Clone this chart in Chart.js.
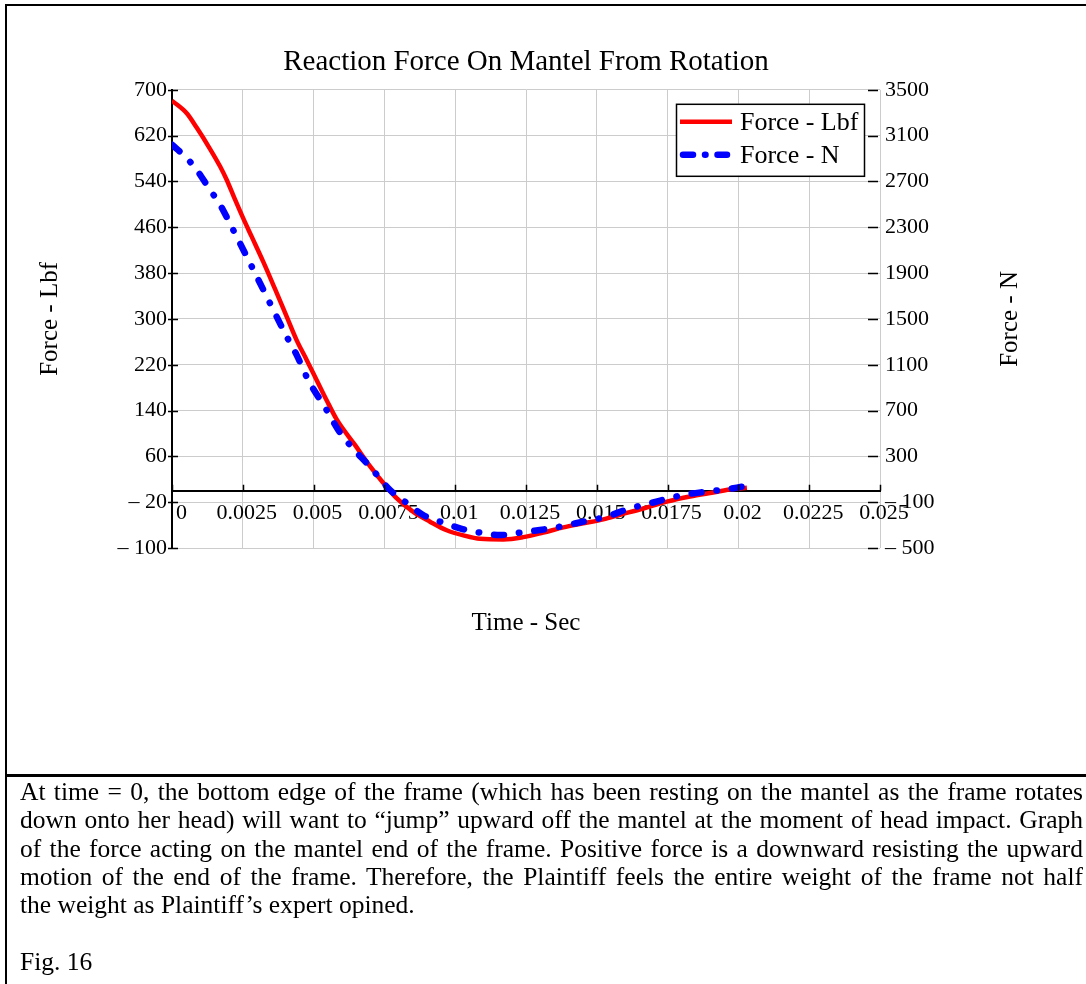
<!DOCTYPE html>
<html>
<head>
<meta charset="utf-8">
<title>Reaction Force On Mantel From Rotation</title>
<script src="https://cdn.jsdelivr.net/npm/chart.js@4.4.0/dist/chart.umd.min.js"></script>
<style>
  html, body { margin: 0; padding: 0; background: #fff; }
  #page { position: relative; width: 1086px; height: 984px; overflow: hidden;
          font-family: "Liberation Serif", "Times New Roman", serif; color: #000; }
  #chart { position: absolute; left: 0; top: 0; }
  .rule { position: absolute; background: #000; }
  #caption { position: absolute; left: 20px; top: 778px; width: 1063px;
             font-size: 25.5px; line-height: 28.3px; }
  #caption .j { text-align: justify; text-align-last: justify; }
</style>
</head>
<body>
<div id="page">
  <canvas id="chart" width="1086" height="776"></canvas>
  <div class="rule" style="left:5px;top:4px;width:1081px;height:2px;"></div>
  <div class="rule" style="left:5px;top:4px;width:2px;height:980px;"></div>
  <div class="rule" style="left:5px;top:774px;width:1081px;height:3px;"></div>
  <div id="caption">
    <div class="j">At time = 0, the bottom edge of the frame (which has been resting on the mantel as the frame rotates</div>
    <div class="j">down onto her head) will want to “jump” upward off the mantel at the moment of head impact. Graph</div>
    <div class="j">of the force acting on the mantel end of the frame. Positive force is a downward resisting the upward</div>
    <div class="j">motion of the end of the frame. Therefore, the Plaintiff feels the entire weight of the frame not half</div>
    <div>the weight as Plaintiff’s expert opined.</div>
    <div>&nbsp;</div>
    <div>Fig. 16</div>
  </div>
</div>
<script>
// Reaction force at the mantel end of the frame, in pounds-force (left axis)
const timeLbf  = [0, 0.00052, 0.00087, 0.00134, 0.0017, 0.00193, 0.00222, 0.00252, 0.00281, 0.00322,
                  0.00364, 0.00405, 0.0044, 0.00476, 0.00511, 0.00546, 0.00582, 0.00646, 0.00699,
                  0.00752, 0.00793, 0.00852, 0.00911, 0.0097, 0.01029, 0.01088, 0.0117, 0.0124,
                  0.01311, 0.01382, 0.01452, 0.01523, 0.01582, 0.01664, 0.01747, 0.01829, 0.01911,
                  0.01982, 0.0203];
const forceLbf = [681, 659, 634, 597, 566, 543, 509, 475, 444, 400,
                  352, 304, 263, 228, 193, 158, 124, 80, 43,
                  10, -13, -37, -54, -69, -78, -84, -85, -81,
                  -73, -64, -57, -50, -42, -31, -19, -10, -3,
                  3, 5];

// Same force in newtons (right axis)
const timeN  = [0, 0.0004, 0.00081, 0.00134, 0.0017, 0.0021, 0.00264, 0.00305, 0.00346, 0.00405,
                0.0044, 0.00481, 0.00546, 0.00587, 0.00628, 0.00699, 0.0077, 0.00823, 0.00887,
                0.00958, 0.01029, 0.01088, 0.01158, 0.01229, 0.01299, 0.01382, 0.01452, 0.01535,
                0.0161, 0.01688, 0.01805, 0.01888, 0.01959, 0.02012];
const forceN = [3020, 2932, 2822, 2627, 2496, 2306, 2044, 1841, 1637, 1346,
                1186, 967, 705, 531, 400, 210, 6, -96, -212,
                -279, -337, -366, -387, -366, -343, -308, -270, -226,
                -160, -110, -37, -8, 13, 35];

// Axis ticks and their printed labels
const xTickValues = [0, 0.0025, 0.005, 0.0075, 0.01, 0.0125, 0.015, 0.0175, 0.02, 0.0225, 0.025];
const xTickLabels = ['\u20070', '0.0025', '0.005', '0.0075', '0.01', '0.0125', '0.015', '0.0175', '0.02', '0.0225', '0.025'];
const lbfTickValues = [-100, -20, 60, 140, 220, 300, 380, 460, 540, 620, 700];
const lbfTickLabels = ['\u2013 100', '\u2013 20', '60', '140', '220', '300', '380', '460', '540', '620', '700'];
const nTickValues = [-500, -100, 300, 700, 1100, 1500, 1900, 2300, 2700, 3100, 3500];
const nTickLabels = ['\u2013 500', '\u2013 100', '300', '700', '1100', '1500', '1900', '2300', '2700', '3100', '3500'];

const chartTitle = 'Reaction Force On Mantel From Rotation';
const xTitle = 'Time - Sec';
const lbfTitle = 'Force - Lbf';
const nTitle = 'Force - N';

const serif = "'Liberation Serif', 'Times New Roman', serif";
const toPoints = (xs, ys) => xs.map((x, i) => ({ x: x, y: ys[i] }));

// Short tick marks on the three axis lines
const axisMarks = {
  id: 'axisMarks',
  afterDatasetsDraw(chart) {
    const { ctx, chartArea, scales } = chart;
    const y = scales.y, y2 = scales.y2, x = scales.x;
    const zero = y.getPixelForValue(0);
    ctx.save();
    ctx.strokeStyle = '#000';
    ctx.lineWidth = 1.5;
    ctx.beginPath();
    y.ticks.forEach(t => {
      const p = Math.round(y.getPixelForValue(t.value)) + 0.5;
      ctx.moveTo(chartArea.left - 4, p); ctx.lineTo(chartArea.left + 6, p);
    });
    y2.ticks.forEach(t => {
      const p = Math.round(y2.getPixelForValue(t.value)) + 0.5;
      ctx.moveTo(chartArea.right - 12, p); ctx.lineTo(chartArea.right - 2, p);
    });
    x.ticks.forEach(t => {
      const p = Math.round(x.getPixelForValue(t.value)) + 0.5;
      ctx.moveTo(p, zero - 6); ctx.lineTo(p, zero);
    });
    ctx.stroke();
    ctx.restore();
  }
};

// Boxed legend in the upper right corner of the plot
const legendBox = {
  id: 'legendBox',
  afterDraw(chart) {
    const { ctx, chartArea } = chart;
    const w = 188, h = 72;
    const x0 = chartArea.right - 16 - w, y0 = chartArea.top + 14;
    ctx.save();
    ctx.fillStyle = '#fff';
    ctx.fillRect(x0, y0, w, h);
    ctx.strokeStyle = '#000';
    ctx.lineWidth = 1.5;
    ctx.strokeRect(x0 + 0.5, y0 + 0.5, w, h);
    chart.data.datasets.forEach((ds, i) => {
      const cy = y0 + 18 + i * 33;
      ctx.strokeStyle = ds.borderColor;
      ctx.lineWidth = ds.borderWidth;
      ctx.lineCap = ds.borderDash ? 'round' : 'butt';
      ctx.setLineDash(ds.borderDash ? [10, 12, 0.5, 12] : []);
      ctx.beginPath();
      ctx.moveTo(x0 + (ds.borderDash ? 7 : 4), cy);
      ctx.lineTo(x0 + (ds.borderDash ? 51 : 56), cy);
      ctx.stroke();
      ctx.setLineDash([]);
      ctx.fillStyle = '#000';
      ctx.font = '26px ' + serif;
      ctx.textBaseline = 'middle';
      ctx.textAlign = 'left';
      ctx.fillText(ds.label, x0 + 64, cy + 1);
    });
    ctx.restore();
  }
};

// Right-hand axis title, reading bottom to top like the left one
const rightTitle = {
  id: 'rightTitle',
  afterDraw(chart) {
    const { ctx, chartArea } = chart;
    ctx.save();
    ctx.translate(1010, (chartArea.top + chartArea.bottom) / 2);
    ctx.rotate(-Math.PI / 2);
    ctx.fillStyle = '#000';
    ctx.font = '25px ' + serif;
    ctx.textAlign = 'center';
    ctx.textBaseline = 'middle';
    ctx.fillText(nTitle, 0, 0);
    ctx.restore();
  }
};

const tickFont = { family: serif, size: 22 };

new Chart(document.getElementById('chart'), {
  type: 'scatter',
  data: {
    datasets: [
      {
        label: 'Force - Lbf',
        data: toPoints(timeLbf, forceLbf),
        xAxisID: 'x', yAxisID: 'y',
        showLine: true,
        borderColor: '#ff0000',
        borderWidth: 4.5,
        pointRadius: 0,
        cubicInterpolationMode: 'monotone',
        order: 1
      },
      {
        label: 'Force - N',
        data: toPoints(timeN, forceN),
        xAxisID: 'x', yAxisID: 'y2',
        showLine: true,
        borderColor: '#0000ff',
        borderWidth: 6.5,
        borderDash: [10, 15, 0.5, 15],
        borderCapStyle: 'round',
        pointRadius: 0,
        cubicInterpolationMode: 'monotone',
        order: 0
      }
    ]
  },
  options: {
    responsive: false,
    animation: false,
    devicePixelRatio: 1,
    layout: { padding: { top: 0, left: 35, right: 64, bottom: 138 } },
    plugins: {
      legend: { display: false },
      tooltip: { enabled: false },
      title: {
        display: true,
        text: chartTitle,
        fullSize: false,
        color: '#000',
        font: { family: serif, size: 29, weight: 'normal' },
        padding: { top: 45, bottom: 10 }
      }
    },
    scales: {
      x: {
        type: 'linear',
        min: 0, max: 0.025,
        position: { y: 0 },
        afterBuildTicks: s => { s.ticks = xTickValues.map(v => ({ value: v })); },
        grid: { color: '#cccccc', lineWidth: 1, drawTicks: false },
        border: { display: true, color: '#000', width: 2 },
        ticks: {
          color: '#000', font: tickFont, padding: 9, labelOffset: 4,
          maxRotation: 0, autoSkip: false,
          callback: (v, i) => xTickLabels[i]
        }
      },
      xTitleAxis: {
        type: 'linear',
        axis: 'x',
        position: 'bottom',
        min: 0, max: 1,
        grid: { display: false, drawTicks: false },
        border: { display: false },
        ticks: { display: false },
        title: {
          display: true, text: xTitle, color: '#000',
          font: { family: serif, size: 25 },
          padding: { top: 60, bottom: 0 }
        }
      },
      y: {
        type: 'linear',
        position: 'left',
        min: -100, max: 700,
        afterBuildTicks: s => { s.ticks = lbfTickValues.map(v => ({ value: v })); },
        afterFit: s => { s.width = 137; },
        grid: { color: '#cccccc', lineWidth: 1, drawTicks: false },
        border: { display: true, color: '#000', width: 2 },
        ticks: { color: '#000', font: tickFont, padding: 5, callback: (v, i) => lbfTickLabels[i] },
        title: {
          display: true, text: lbfTitle, color: '#000',
          font: { family: serif, size: 25 },
          padding: 0
        }
      },
      y2: {
        type: 'linear',
        position: 'right',
        min: -500, max: 3500,
        afterBuildTicks: s => { s.ticks = nTickValues.map(v => ({ value: v })); },
        afterFit: s => { s.width = 142; },
        grid: { display: false, drawTicks: false },
        border: { display: false },
        ticks: { color: '#000', font: tickFont, padding: 5, callback: (v, i) => nTickLabels[i] }
      }
    }
  },
  plugins: [axisMarks, legendBox, rightTitle]
});
</script>
</body>
</html>
